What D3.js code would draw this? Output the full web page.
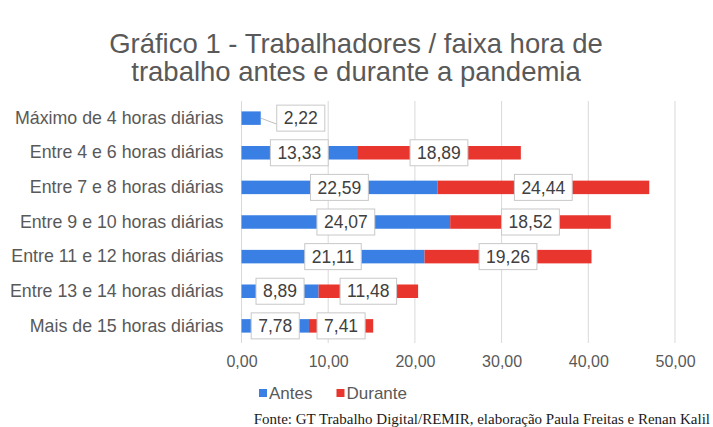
<!DOCTYPE html>
<html lang="pt">
<head>
<meta charset="utf-8">
<title>Gráfico 1</title>
<script src="https://cdn.jsdelivr.net/npm/d3@7/dist/d3.min.js"></script>
<style>
  body { margin: 0; background: #fff; }
  #chart { width: 713px; height: 427px; }
  text { font-family: "Liberation Sans", Arial, sans-serif; }
</style>
</head>
<body>
<div id="chart"></div>
<script>
// dados
var categorias = [
  "Máximo de 4 horas diárias",
  "Entre 4 e 6 horas diárias",
  "Entre 7 e 8 horas diárias",
  "Entre 9 e 10 horas diárias",
  "Entre 11 e 12 horas diárias",
  "Entre 13 e 14 horas diárias",
  "Mais de 15 horas diárias"
];
var antes   = [2.22, 13.33, 22.59, 24.07, 21.11, 8.89, 7.78];
var durante = [null, 18.89, 24.44, 18.52, 19.26, 11.48, 7.41];
var series  = ["Antes", "Durante"];
var ticks   = [0, 10, 20, 30, 40, 50];

var cores = { "Antes": "#3a80e4", "Durante": "#e8362f" };
var fmt = function(v) { return v.toFixed(2).replace(".", ","); };

var W = 713, H = 427;
var margin = { top: 101, right: 38, bottom: 84, left: 241.5 };
var width = W - margin.left - margin.right,
    height = H - margin.top - margin.bottom;

var svg = d3.select("#chart").append("svg")
    .attr("width", W)
    .attr("height", H);

// titulo
var titulo = svg.append("text")
    .attr("text-anchor", "middle")
    .style("font-size", "27.5px")
    .style("fill", "#595959");
titulo.append("tspan").attr("x", 356).attr("y", 53)
    .text("Gráfico 1 - Trabalhadores / faixa hora de");
titulo.append("tspan").attr("x", 356).attr("y", 81)
    .text("trabalho antes e durante a pandemia");

var g = svg.append("g")
    .attr("transform", "translate(" + margin.left + "," + margin.top + ")");

var x = d3.scaleLinear().domain([0, 50]).range([0, width]);
var y = d3.scaleBand().domain(categorias).range([0, height]).paddingInner(0.61).paddingOuter(0.3);

// grade vertical
g.selectAll(".grid").data(ticks).enter().append("line")
    .attr("x1", function(d) { return x(d); })
    .attr("x2", function(d) { return x(d); })
    .attr("y1", 0)
    .attr("y2", height)
    .style("stroke", "#d9d9d9")
    .style("stroke-width", 1);

// eixo x
var xAxis = d3.axisBottom(x).tickValues(ticks).tickSize(0).tickPadding(13).tickFormat(fmt);
var gx = g.append("g")
    .attr("transform", "translate(0," + height + ")")
    .call(xAxis);
gx.select(".domain").remove();
gx.selectAll("text")
    .style("font-size", "16px")
    .style("fill", "#595959")
    .style("font-family", "'Liberation Sans', Arial, sans-serif");

// eixo y
var yAxis = d3.axisLeft(y).tickSize(0).tickPadding(18);
var gy = g.append("g").call(yAxis);
gy.select(".domain").remove();
gy.selectAll("text")
    .style("font-size", "17.8px")
    .style("fill", "#595959")
    .style("font-family", "'Liberation Sans', Arial, sans-serif");

// dados empilhados
var linhas = categorias.map(function(c, i) {
  return { cat: c, Antes: antes[i] || 0, Durante: durante[i] || 0 };
});
var stack = d3.stack().keys(series)(linhas);

var camadas = g.selectAll(".serie").data(stack).enter().append("g")
    .style("fill", function(d) { return cores[d.key]; });

camadas.selectAll("rect").data(function(d) { return d; }).enter().append("rect")
    .attr("x", function(d) { return x(d[0]); })
    .attr("y", function(d) { return y(d.data.cat); })
    .attr("width", function(d) { return x(d[1]) - x(d[0]); })
    .attr("height", y.bandwidth());

// rotulos com caixa
var rotulos = [];
stack.forEach(function(s) {
  s.forEach(function(d) {
    var v = d.data[s.key];
    if (v > 0) rotulos.push({ v: v, x0: x(d[0]), x1: x(d[1]), cat: d.data.cat });
  });
});

var lab = g.selectAll(".lab").data(rotulos).enter().append("g");
lab.each(function(d) {
  var el = d3.select(this);
  var cy = y(d.cat) + y.bandwidth() / 2;
  var t = el.append("text")
      .attr("text-anchor", "middle")
      .attr("dy", "0.35em")
      .style("font-size", "17.5px")
      .style("fill", "#404040")
      .text(fmt(d.v));
  var tw = t.node().getComputedTextLength();
  var bw = tw + 14, bh = 26;
  var cx = (d.x0 + d.x1) / 2;
  var fora = (d.x1 - d.x0) < 25;
  if (fora) cx = d.x1 + 16 + bw / 2;
  t.attr("x", cx).attr("y", cy);
  if (fora) {
    el.insert("path", "text")
      .attr("d", "M" + d.x1 + "," + cy + "L" + (cx - bw / 2) + "," + (cy + 6))
      .style("stroke", "#bfbfbf")
      .style("fill", "none");
  }
  el.insert("rect", "text")
    .attr("x", cx - bw / 2)
    .attr("y", cy - bh / 2)
    .attr("width", bw)
    .attr("height", bh)
    .style("fill", "#fff")
    .style("stroke", "#c8c8c8")
    .style("stroke-width", 1);
});

// legenda
var leg = svg.append("g").attr("transform", "translate(259,393)");
var lx = 0;
series.forEach(function(s) {
  leg.append("rect")
    .attr("x", lx).attr("y", -4)
    .attr("width", 8).attr("height", 8)
    .style("fill", cores[s]);
  var t = leg.append("text")
    .attr("x", lx + 10).attr("y", 0)
    .attr("dy", "0.35em")
    .style("font-size", "17px")
    .style("fill", "#595959")
    .text(s);
  lx += 10 + t.node().getComputedTextLength() + 24;
});

// fonte
svg.append("text")
    .attr("x", 710)
    .attr("y", 424)
    .attr("text-anchor", "end")
    .style("font-family", "'Liberation Serif', 'Times New Roman', serif")
    .style("font-size", "15px")
    .style("fill", "#1a1a1a")
    .text("Fonte: GT Trabalho Digital/REMIR, elaboração Paula Freitas e Renan Kalil");
</script>
</body>
</html>
